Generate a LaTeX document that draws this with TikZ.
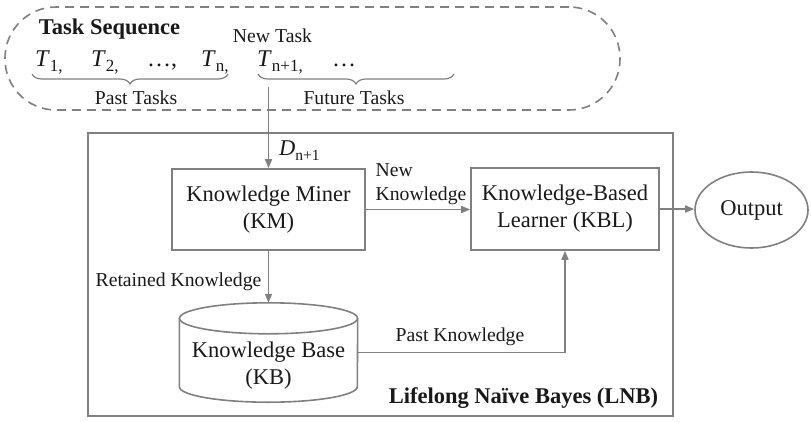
\documentclass[tikz,border=0pt]{standalone}
\usepackage{fontspec}
\setmainfont{Liberation Serif}
\usetikzlibrary{arrows.meta,decorations.pathreplacing,calc,shapes.geometric}
\definecolor{lgray}{RGB}{128,128,128}
\definecolor{txt}{RGB}{25,25,25}
\newcommand{\bigf}{\fontsize{22.5}{27}\selectfont}
\newcommand{\smf}{\fontsize{19.7}{23.5}\selectfont}
\newcommand{\subf}[1]{\raisebox{-5pt}{\fontsize{17}{17}\selectfont #1}}
\newcommand{\subd}[1]{\raisebox{-5pt}{\fontsize{15.5}{15.5}\selectfont #1}}
\begin{document}
\begin{tikzpicture}[x=1pt,y=-1pt,
  line/.style={draw=lgray, line width=1.6pt},
  arr/.style={line, -{Triangle[length=9pt,width=7pt]}},
  box/.style={line, align=center, font=\bigf, text=txt, inner sep=0pt},
  lbl/.style={font=\smf, text=txt, inner sep=0pt, align=left},
  bold/.style={font=\bigf\bfseries, text=txt, inner sep=0pt},
  tee/.style={font=\fontsize{24}{28}\selectfont, text=txt, inner sep=0pt, anchor=base west},
  bracel/.style={draw=lgray, line width=1.2pt, decorate, decoration={brace, mirror, amplitude=10pt}}]
\useasboundingbox (0,0) rectangle (811,421);
% task sequence region
\node[draw=lgray, line width=1.6pt, dash pattern=on 9pt off 6pt, rounded corners=51pt,
      minimum width=615pt, minimum height=103pt, inner sep=0pt] (seq) at (312.5,58.5) {};
\node[bold, anchor=base] (seqtitle) at (109.5,34) {Task Sequence};
\node[lbl, anchor=base] (newtask) at (272.5,42.5) {New Task};
\node[tee] (t1) at (35,66) {\textit{T}\subf{1,}};
\node[tee] (t2) at (91,66) {\textit{T}\subf{2,}};
\node[tee] (d1) at (147,66) {…,};
\node[tee] (tn) at (201,66) {\textit{T}\subf{n,}};
\node[tee] (tn1) at (257,66) {\textit{T}\subf{n+1,}};
\node[tee] (d2) at (332,66) {…};
\draw[bracel] (32,74) -- (228,74);
\draw[bracel] (258,74) -- (454,74);
\node[lbl, anchor=base] (past) at (136,104) {Past Tasks};
\node[lbl, anchor=base] (future) at (354,104) {Future Tasks};
\coordinate (start) at (268.5,87);
% LNB frame
\node[line, minimum width=585pt, minimum height=283pt, inner sep=0pt] (lnb) at (380.5,274.5) {};
\node[bold, anchor=base] (lnbtitle) at (523.5,403) {Lifelong Naïve Bayes (LNB)};
% boxes
\node[box, minimum width=193pt, minimum height=81pt] (km) at (268.5,209.5) {Knowledge Miner\\(KM)};
\node[box, minimum width=188pt, minimum height=82pt] (kbl) at (565,209) {Knowledge-Based\\Learner (KBL)};
\node[box, ellipse, minimum width=113pt, minimum height=76pt] (out) at (751.5,210) {Output};
% knowledge base cylinder
\node[minimum width=178pt, minimum height=99pt, inner sep=0pt] (kb) at (268.5,352.5) {};
\draw[line] ($(kb.north west)+(0,15.5)$) -- ($(kb.south west)+(0,-15.5)$)
  arc[start angle=180, end angle=360, x radius=89pt, y radius=15.5pt]
  -- ($(kb.north east)+(0,15.5)$);
\draw[line] ($(kb.north)+(0,15.5)$) ellipse[x radius=89pt, y radius=15.5pt];
\node[font=\bigf, text=txt, align=center, inner sep=0pt] (kbtext) at (268.5,366) {Knowledge Base\\(KB)};
% labels
\node[font=\bigf, text=txt, inner sep=0pt, anchor=base west] (dlab) at (279,155) {\textit{D}\subd{n+1}};
\node[lbl, anchor=base] (newk1) at (421,200.7) {\phantom{Knowledge}};
\node[lbl, anchor=base west] (newk0) at ($(newk1.base west)+(0,-24)$) {New};
\node[lbl, anchor=base west] (newk2) at (newk1.base west) {Knowledge};
\node[lbl, anchor=base] (retk) at (178.5,286.7) {Retained Knowledge};
\node[lbl, anchor=base] (pastk) at (460,341.7) {Past Knowledge};
% connectors
\draw[arr] (start) -- (km.north);
\draw[arr] (km.east) -- (km.east -| kbl.west);
\draw[arr] (kbl.east) -- (kbl.east -| out.west);
\draw[arr] (km.south) -- (kb.north);
\draw[arr] (kb.east) -| (kbl.south);
\end{tikzpicture}
\end{document}
